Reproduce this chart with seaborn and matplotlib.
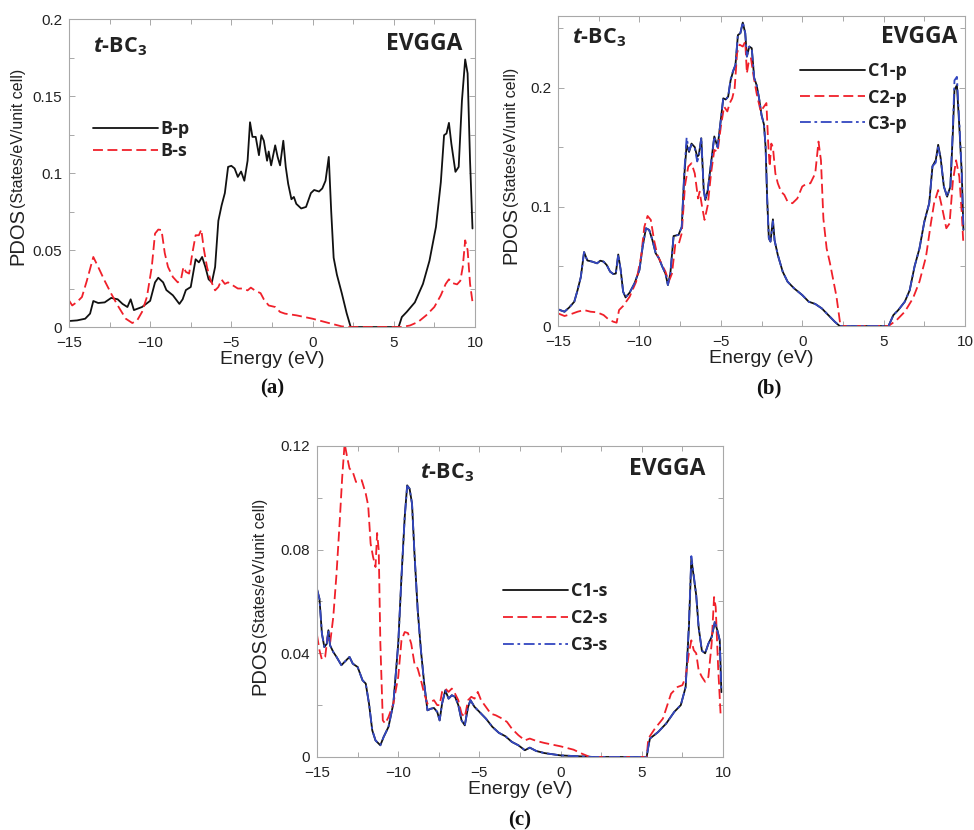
import matplotlib
matplotlib.use("Agg")
import matplotlib.pyplot as plt
from matplotlib.ticker import MultipleLocator, FuncFormatter
from matplotlib.font_manager import FontProperties
import pandas as pd
import seaborn as sns

# ---------------- (a) boron partial DOS ----------------
e_bp = [-15.0, -14.5, -14.0, -13.7, -13.5, -13.2, -12.8, -12.4, -12.0, -11.7,
        -11.4, -11.2, -11.0, -10.5, -10.0, -9.7, -9.5, -9.2, -9.0, -8.6,
        -8.2, -8.0, -7.8, -7.5, -7.2, -7.0, -6.8, -6.6, -6.4, -6.2,
        -6.0, -5.8, -5.6, -5.4, -5.2, -5.0, -4.8, -4.6, -4.4, -4.2,
        -4.0, -3.85, -3.7, -3.5, -3.3, -3.15, -3.0, -2.8, -2.7, -2.55,
        -2.3, -2.15, -2.0, -1.8, -1.65, -1.5, -1.3, -1.15, -1.0, -0.7,
        -0.4, -0.1, 0.1, 0.4, 0.6, 0.8, 1.0, 1.15, 1.3, 1.5,
        1.8, 2.1, 2.35, 5.3, 5.5, 5.8, 6.3, 6.8, 7.2, 7.6,
        7.9, 8.1, 8.25, 8.4, 8.55, 8.8, 9.0, 9.2, 9.4, 9.55,
        9.7, 9.85]
b_p = [0.0039, 0.0043, 0.0054, 0.0087, 0.0169, 0.0156, 0.0160, 0.0189, 0.0180, 0.0150,
       0.0130, 0.0180, 0.0110, 0.0130, 0.0170, 0.0290, 0.0320, 0.0290, 0.0240, 0.0206,
       0.0150, 0.0180, 0.0240, 0.0260, 0.0440, 0.0420, 0.0455, 0.0390, 0.0310, 0.0290,
       0.0390, 0.0690, 0.0790, 0.0870, 0.1040, 0.1047, 0.1030, 0.0975, 0.1010, 0.0950,
       0.1080, 0.1330, 0.1235, 0.1235, 0.1116, 0.1246, 0.1210, 0.1080, 0.1140, 0.1050,
       0.1180, 0.1105, 0.1050, 0.1210, 0.1040, 0.0930, 0.0830, 0.0845, 0.0800, 0.0770,
       0.0780, 0.0870, 0.0890, 0.0880, 0.0900, 0.0950, 0.1105, 0.0750, 0.0450, 0.0340,
       0.0220, 0.0090, 0.0, 0.0, 0.0065, 0.0098, 0.0160, 0.0280, 0.0430, 0.0650,
       0.0940, 0.1246, 0.1257, 0.1326, 0.1190, 0.1008, 0.1040, 0.1470, 0.1738, 0.1647,
       0.1080, 0.0640]

e_bs = [-15.0, -14.8, -14.5, -14.2, -13.9, -13.5, -13.2, -12.8, -12.4, -12.0,
        -11.5, -11.1, -10.8, -10.5, -10.2, -9.9, -9.7, -9.5, -9.3, -9.1,
        -8.9, -8.6, -8.3, -8.1, -7.95, -7.8, -7.6, -7.4, -7.2, -7.0,
        -6.85, -6.7, -6.5, -6.3, -6.0, -5.8, -5.6, -5.4, -5.2, -4.9,
        -4.6, -4.3, -4.0, -3.8, -3.5, -3.2, -3.0, -2.7, -2.3, -2.0,
        -1.7, -1.0, 0.0, 1.0, 1.8, 2.3, 5.5, 6.0, 6.5, 7.0,
        7.5, 7.9, 8.2, 8.4, 8.6, 8.9, 9.1, 9.25, 9.4, 9.55,
        9.7, 9.85]
b_s = [0.0173, 0.0140, 0.0163, 0.0195, 0.0300, 0.0455, 0.0390, 0.0300, 0.0217, 0.0140,
       0.0054, 0.0026, 0.0043, 0.0098, 0.0195, 0.0390, 0.0607, 0.0633, 0.0630, 0.0480,
       0.0390, 0.0325, 0.0290, 0.0310, 0.0390, 0.0358, 0.0347, 0.0480, 0.0596, 0.0596,
       0.0633, 0.0510, 0.0390, 0.0310, 0.0238, 0.0260, 0.0308, 0.0280, 0.0290, 0.0270,
       0.0250, 0.0250, 0.0238, 0.0256, 0.0234, 0.0220, 0.0180, 0.0140, 0.0130, 0.0098,
       0.0087, 0.0076, 0.0054, 0.0026, 0.0004, 0.0, 0.0, 0.0010, 0.0033, 0.0076,
       0.0130, 0.0206, 0.0280, 0.0310, 0.0286, 0.0277, 0.0300, 0.0390, 0.0563, 0.0500,
       0.0280, 0.0163]

# ---------------- (b) carbon p partial DOS ----------------
e_cp = [-15.0, -14.6, -14.3, -14.0, -13.8, -13.6, -13.4, -13.2, -12.9, -12.6,
        -12.4, -12.2, -12.0, -11.8, -11.6, -11.45, -11.3, -11.15, -11.0, -10.85,
        -10.6, -10.3, -10.0, -9.8, -9.6, -9.4, -9.2, -9.0, -8.8, -8.6,
        -8.4, -8.25, -8.1, -7.9, -7.6, -7.4, -7.25, -7.1, -6.95, -6.8,
        -6.6, -6.45, -6.35, -6.2, -6.05, -5.95, -5.8, -5.6, -5.4, -5.2,
        -5.0, -4.85, -4.7, -4.55, -4.4, -4.25, -4.1, -3.95, -3.8, -3.65,
        -3.5, -3.4, -3.25, -3.1, -2.95, -2.8, -2.65, -2.5, -2.35, -2.25,
        -2.15, -2.05, -1.95, -1.8, -1.7, -1.5, -1.2, -0.9, -0.5, 0.0,
        0.4, 0.8, 1.2, 1.6, 2.0, 2.3, 5.3, 5.6, 5.9, 6.3,
        6.6, 6.9, 7.2, 7.5, 7.8, 8.0, 8.2, 8.35, 8.5, 8.7,
        8.9, 9.1, 9.25, 9.35, 9.5, 9.65, 9.8, 9.9]
c1_p = [0.0140, 0.0120, 0.0157, 0.0204, 0.0300, 0.0410, 0.0620, 0.0550, 0.0540, 0.0526,
        0.0548, 0.0540, 0.0510, 0.0456, 0.0436, 0.0440, 0.0600, 0.0470, 0.0288, 0.0240,
        0.0280, 0.0358, 0.0470, 0.0666, 0.0820, 0.0806, 0.0720, 0.0610, 0.0568, 0.0500,
        0.0440, 0.0344, 0.0440, 0.0755, 0.0764, 0.0830, 0.1250, 0.1520, 0.1460, 0.1530,
        0.1500, 0.1420, 0.1435, 0.1575, 0.1140, 0.1057, 0.1140, 0.1365, 0.1590, 0.1500,
        0.1730, 0.1910, 0.1900, 0.1924, 0.2060, 0.2134, 0.2190, 0.2440, 0.2456, 0.2545,
        0.2456, 0.2260, 0.2344, 0.2330, 0.2080, 0.2020, 0.1910, 0.1770, 0.1690, 0.1500,
        0.1057, 0.0736, 0.0708, 0.0895, 0.0720, 0.0596, 0.0456, 0.0372, 0.0316, 0.0260,
        0.0204, 0.0185, 0.0148, 0.0092, 0.0036, 0.0, 0.0, 0.0092, 0.0134, 0.0204,
        0.0300, 0.0500, 0.0650, 0.0875, 0.1030, 0.1340, 0.1390, 0.1520, 0.1410, 0.1170,
        0.1085, 0.1170, 0.1617, 0.1980, 0.2020, 0.1670, 0.1280, 0.0806]
c3_p = [0.0140, 0.0120, 0.0157, 0.0204, 0.0300, 0.0410, 0.0620, 0.0550, 0.0540, 0.0526,
        0.0548, 0.0540, 0.0510, 0.0456, 0.0436, 0.0440, 0.0600, 0.0470, 0.0288, 0.0240,
        0.0280, 0.0358, 0.0470, 0.0666, 0.0820, 0.0806, 0.0720, 0.0610, 0.0568, 0.0500,
        0.0440, 0.0344, 0.0440, 0.0755, 0.0764, 0.0830, 0.1280, 0.1580, 0.1470, 0.1520,
        0.1490, 0.1380, 0.1420, 0.1580, 0.1140, 0.1057, 0.1140, 0.1365, 0.1590, 0.1500,
        0.1730, 0.1910, 0.1900, 0.1924, 0.2070, 0.2140, 0.2190, 0.2450, 0.2456, 0.2550,
        0.2456, 0.2260, 0.2344, 0.2330, 0.2080, 0.2020, 0.1910, 0.1770, 0.1690, 0.1500,
        0.1057, 0.0736, 0.0708, 0.0880, 0.0720, 0.0596, 0.0456, 0.0372, 0.0316, 0.0260,
        0.0204, 0.0185, 0.0148, 0.0092, 0.0036, 0.0, 0.0, 0.0092, 0.0134, 0.0204,
        0.0300, 0.0500, 0.0650, 0.0875, 0.1030, 0.1340, 0.1370, 0.1500, 0.1410, 0.1170,
        0.1085, 0.1170, 0.1650, 0.2060, 0.2090, 0.1700, 0.1280, 0.0806]

e_c2p = [-15.0, -14.6, -14.2, -13.8, -13.4, -13.0, -12.6, -12.2, -11.9, -11.6,
         -11.4, -11.25, -11.0, -10.6, -10.2, -9.9, -9.7, -9.5, -9.3, -9.1,
         -8.9, -8.6, -8.4, -8.2, -8.0, -7.8, -7.6, -7.4, -7.2, -7.0,
         -6.8, -6.6, -6.4, -6.3, -6.15, -6.0, -5.8, -5.6, -5.4, -5.2,
         -5.0, -4.8, -4.6, -4.45, -4.3, -4.15, -4.0, -3.85, -3.65, -3.5,
         -3.4, -3.3, -3.15, -3.0, -2.8, -2.55, -2.35, -2.2, -2.1, -2.0,
         -1.9, -1.8, -1.65, -1.5, -1.3, -1.1, -0.9, -0.6, -0.3, 0.0,
         0.3, 0.5, 0.8, 1.0, 1.15, 1.3, 1.5, 1.7, 2.1, 2.35,
         5.3, 5.8, 6.3, 6.8, 7.2, 7.6, 7.9, 8.1, 8.35, 8.6,
         8.85, 9.05, 9.25, 9.45, 9.65, 9.8, 9.9]
c2_p = [0.0106, 0.0084, 0.0100, 0.0120, 0.0134, 0.0120, 0.0115, 0.0092, 0.0056, 0.0036,
        0.0028, 0.0134, 0.0168, 0.0246, 0.0372, 0.0580, 0.0830, 0.0923, 0.0890, 0.0720,
        0.0596, 0.0510, 0.0456, 0.0372, 0.0440, 0.0680, 0.0680, 0.0778, 0.1180, 0.1337,
        0.1365, 0.1280, 0.1070, 0.1127, 0.1000, 0.0890, 0.1015, 0.1280, 0.1477, 0.1460,
        0.1670, 0.1840, 0.1800, 0.1870, 0.1910, 0.1995, 0.2290, 0.2360, 0.2344, 0.2386,
        0.2120, 0.2204, 0.2246, 0.2106, 0.1950, 0.1800, 0.1840, 0.1870, 0.1560, 0.1337,
        0.1530, 0.1500, 0.1280, 0.1197, 0.1127, 0.1100, 0.1043, 0.1030, 0.1070, 0.1170,
        0.1197, 0.1197, 0.1280, 0.1547, 0.1390, 0.0900, 0.0650, 0.0530, 0.0250, 0.0,
        0.0, 0.0050, 0.0120, 0.0232, 0.0372, 0.0580, 0.0860, 0.1030, 0.1140, 0.0987,
        0.0820, 0.0860, 0.1210, 0.1390, 0.1250, 0.0945, 0.0680]

# ---------------- (c) carbon s partial DOS ----------------
e_cs = [-15.0, -14.85, -14.7, -14.55, -14.4, -14.3, -14.2, -14.0, -13.8, -13.5,
        -13.3, -13.0, -12.8, -12.5, -12.2, -12.0, -11.8, -11.6, -11.4, -11.1,
        -10.9, -10.6, -10.3, -10.0, -9.8, -9.6, -9.45, -9.3, -9.15, -9.0,
        -8.8, -8.6, -8.4, -8.2, -8.0, -7.8, -7.6, -7.45, -7.3, -7.1,
        -6.9, -6.7, -6.5, -6.3, -6.1, -5.9, -5.7, -5.55, -5.3, -5.0,
        -4.6, -4.2, -3.8, -3.4, -3.0, -2.6, -2.2, -1.9, -1.5, -1.0,
        0.0, 1.0, 2.0, 5.3, 5.4, 5.5, 6.0, 6.5, 7.0, 7.4,
        7.7, 7.9, 8.05, 8.2, 8.35, 8.5, 8.7, 8.9, 9.1, 9.3,
        9.5, 9.65, 9.8, 9.9]
c1_s = [0.0647, 0.0610, 0.0476, 0.0424, 0.0437, 0.0489, 0.0431, 0.0405, 0.0386, 0.0354,
        0.0367, 0.0386, 0.0360, 0.0347, 0.0296, 0.0283, 0.0206, 0.0103, 0.0064, 0.0045,
        0.0077, 0.0116, 0.0206, 0.0437, 0.0695, 0.0926, 0.1048, 0.1035, 0.0977, 0.0785,
        0.0566, 0.0410, 0.0283, 0.0180, 0.0186, 0.0189, 0.0174, 0.0141, 0.0206, 0.0257,
        0.0225, 0.0238, 0.0232, 0.0200, 0.0141, 0.0122, 0.0193, 0.0219, 0.0193, 0.0174,
        0.0148, 0.0116, 0.0093, 0.0080, 0.0058, 0.0045, 0.0026, 0.0036, 0.0023, 0.0015,
        0.0006, 0.0003, 0.0, 0.0, 0.0039, 0.0071, 0.0096, 0.0129, 0.0174, 0.0200,
        0.0270, 0.0500, 0.0765, 0.0695, 0.0624, 0.0500, 0.0410, 0.0400, 0.0437, 0.0463,
        0.0520, 0.0489, 0.0450, 0.0250]
c3_s = [0.0647, 0.0610, 0.0476, 0.0424, 0.0437, 0.0489, 0.0431, 0.0405, 0.0386, 0.0354,
        0.0367, 0.0386, 0.0360, 0.0347, 0.0296, 0.0283, 0.0206, 0.0103, 0.0064, 0.0045,
        0.0077, 0.0116, 0.0206, 0.0437, 0.0695, 0.0926, 0.1045, 0.1035, 0.0977, 0.0785,
        0.0566, 0.0410, 0.0283, 0.0180, 0.0186, 0.0189, 0.0174, 0.0141, 0.0206, 0.0257,
        0.0225, 0.0238, 0.0232, 0.0200, 0.0141, 0.0122, 0.0193, 0.0219, 0.0193, 0.0174,
        0.0148, 0.0116, 0.0093, 0.0080, 0.0058, 0.0045, 0.0026, 0.0036, 0.0023, 0.0015,
        0.0006, 0.0003, 0.0, 0.0, 0.0039, 0.0071, 0.0096, 0.0129, 0.0174, 0.0200,
        0.0270, 0.0510, 0.0775, 0.0700, 0.0624, 0.0500, 0.0410, 0.0400, 0.0437, 0.0463,
        0.0525, 0.0489, 0.0450, 0.0250]

e_c2s = [-15.0, -14.85, -14.7, -14.5, -14.35, -14.2, -14.0, -13.8, -13.6, -13.45,
         -13.3, -13.15, -13.0, -12.8, -12.6, -12.4, -12.25, -12.0, -11.85, -11.7,
         -11.55, -11.4, -11.3, -11.2, -11.1, -10.95, -10.8, -10.6, -10.3, -10.0,
         -9.8, -9.6, -9.4, -9.2, -9.0, -8.8, -8.6, -8.4, -8.2, -8.0,
         -7.8, -7.6, -7.45, -7.3, -7.1, -6.9, -6.7, -6.5, -6.3, -6.1,
         -5.9, -5.7, -5.5, -5.3, -5.1, -4.9, -4.6, -4.3, -4.0, -3.6,
         -3.3, -3.0, -2.6, -2.2, -1.9, -1.5, -1.0, 0.0, 0.8, 1.3,
         1.8, 5.3, 5.4, 5.8, 6.3, 6.8, 7.2, 7.5, 7.7, 7.9,
         8.05, 8.2, 8.35, 8.5, 8.7, 8.9, 9.1, 9.3, 9.45, 9.55,
         9.7, 9.85]
c2_s = [0.0470, 0.0412, 0.0376, 0.0386, 0.0463, 0.0437, 0.0540, 0.0707, 0.0913, 0.1080,
        0.1210, 0.1158, 0.1113, 0.1100, 0.1061, 0.1065, 0.1068, 0.1016, 0.0970, 0.0823,
        0.0772, 0.0733, 0.0864, 0.0797, 0.0437, 0.0141, 0.0129, 0.0154, 0.0206, 0.0309,
        0.0450, 0.0482, 0.0478, 0.0437, 0.0360, 0.0341, 0.0296, 0.0244, 0.0206, 0.0212,
        0.0219, 0.0200, 0.0200, 0.0251, 0.0264, 0.0251, 0.0264, 0.0244, 0.0219, 0.0167,
        0.0154, 0.0219, 0.0232, 0.0225, 0.0251, 0.0219, 0.0193, 0.0167, 0.0161, 0.0148,
        0.0135, 0.0109, 0.0084, 0.0064, 0.0071, 0.0062, 0.0054, 0.0041, 0.0028, 0.0013,
        0.0, 0.0, 0.0071, 0.0109, 0.0148, 0.0244, 0.0270, 0.0277, 0.0309, 0.0400,
        0.0450, 0.0412, 0.0400, 0.0334, 0.0309, 0.0290, 0.0309, 0.0437, 0.0617, 0.0579,
        0.0347, 0.0167]

BLACK = "#111111"
RED = "#f0202a"
BLUE = "#3347c0"
SOLID = "-"
DASHED = (0, (5.5, 2.5))
DASHDOT = (0, (6, 2, 1.5, 2))

sns.set_theme(style="ticks")
plt.rcParams.update({
    "font.family": ["Liberation Sans", "DejaVu Sans"],
    "mathtext.fontset": "custom",
    "mathtext.rm": "Open Sans:bold",
    "mathtext.it": "Open Sans:italic:bold",
    "mathtext.bf": "Open Sans:bold",
    "axes.edgecolor": "#a8a8a8",
    "axes.linewidth": 0.8,
    "xtick.color": "#a8a8a8",
    "ytick.color": "#a8a8a8",
    "xtick.labelcolor": "#222222",
    "ytick.labelcolor": "#222222",
    "xtick.direction": "in",
    "ytick.direction": "in",
    "xtick.top": True,
    "ytick.right": True,
    "xtick.major.size": 4,
    "ytick.major.size": 4,
    "xtick.minor.size": 3.5,
    "ytick.minor.size": 3.5,
    "xtick.major.width": 0.7,
    "ytick.major.width": 0.7,
    "xtick.minor.width": 0.7,
    "ytick.minor.width": 0.7,
    "xtick.major.pad": 6.5,
    "ytick.major.pad": 5,
    "xtick.labelsize": 11,
    "ytick.labelsize": 11,
})

fig = plt.figure(figsize=(9.74, 8.30), dpi=100)

bold_font = FontProperties(family="Open Sans", weight="bold", size=13)


def make_panel(rect, series, ymax, ymajor, yminor, ylab_x, leg_anchor, leg_spacing,
               tbc_xy, ev_xy, letter, letter_xy):
    ax = fig.add_axes(rect)
    for e, v, name, color, ls in series:
        df = pd.DataFrame({"Energy": e, "PDOS": v})
        sns.lineplot(data=df, x="Energy", y="PDOS", ax=ax, color=color, linestyle=ls,
                     linewidth=1.3, label=name, estimator=None, sort=False)
    ax.set_xlim(-15, 10)
    ax.set_ylim(0, ymax)
    ax.xaxis.set_major_locator(MultipleLocator(5))
    ax.xaxis.set_minor_locator(MultipleLocator(2.5))
    ax.yaxis.set_major_locator(MultipleLocator(ymajor))
    ax.yaxis.set_minor_locator(MultipleLocator(yminor))
    ax.yaxis.set_major_formatter(FuncFormatter(lambda val, pos: "%g" % round(val, 4)))
    ax.tick_params(which="both", top=True, right=True)
    ax.set_xlabel("Energy (eV)", fontsize=14, color="#222222", labelpad=0.5)
    ax.set_ylabel("")
    # two-size vertical axis title
    t1 = ax.text(ylab_x, 0.2, "PDOS", rotation=90, transform=ax.transAxes,
                 ha="center", va="bottom", fontsize=14.5, color="#222222")
    ax.annotate("(States/eV/unit cell)", xy=(0.5, 1.0), xycoords=t1,
                rotation=90, ha="center", va="bottom", fontsize=11.5, color="#222222")
    leg = ax.legend(loc="center left", bbox_to_anchor=leg_anchor, frameon=False,
                    prop=bold_font, handlelength=3.6, handletextpad=0.15,
                    labelspacing=leg_spacing, borderpad=0, borderaxespad=0)
    for txt in leg.get_texts():
        txt.set_color("#222222")
    ax.text(tbc_xy[0], tbc_xy[1], r"$\mathit{t}$-BC$_3$", transform=ax.transAxes,
            fontfamily="Open Sans", fontweight="bold", fontsize=15.5,
            ha="left", va="baseline", color="#222222")
    ax.text(ev_xy[0], ev_xy[1], "EVGGA", transform=ax.transAxes,
            fontfamily="Open Sans", fontweight="bold", fontsize=16.5,
            ha="right", va="baseline", color="#222222")
    fig.text(letter_xy[0], letter_xy[1], letter, fontfamily="Liberation Serif",
             fontweight="bold", fontsize=15, ha="center", va="center", color="#111111")
    return ax


make_panel([0.0708, 0.606, 0.4168, 0.371],
           [(e_bp, b_p, "B-p", BLACK, SOLID), (e_bs, b_s, "B-s", RED, DASHED)],
           0.2, 0.05, 0.025, -0.125, (0.059, 0.607), 0.25,
           (0.059, 0.893), (0.968, 0.899), "(a)", (0.279, 0.5325))

make_panel([0.5729, 0.6072, 0.4179, 0.3735],
           [(e_cp, c1_p, "C1-p", BLACK, SOLID), (e_c2p, c2_p, "C2-p", RED, DASHED),
            (e_cp, c3_p, "C3-p", BLUE, DASHDOT)],
           0.26, 0.1, 0.05, -0.115, (0.595, 0.737), 0.45,
           (0.034, 0.913), (0.98, 0.913), "(b)", (0.789, 0.5325))

make_panel([0.3255, 0.088, 0.4168, 0.3747],
           [(e_cs, c1_s, "C1-s", BLACK, SOLID), (e_c2s, c2_s, "C2-s", RED, DASHED),
            (e_cs, c3_s, "C3-s", BLUE, DASHDOT)],
           0.12, 0.04, 0.02, -0.14, (0.458, 0.447), 0.5,
           (0.254, 0.897), (0.956, 0.907), "(c)", (0.534, 0.012))

fig.savefig("out.png", dpi=100)
